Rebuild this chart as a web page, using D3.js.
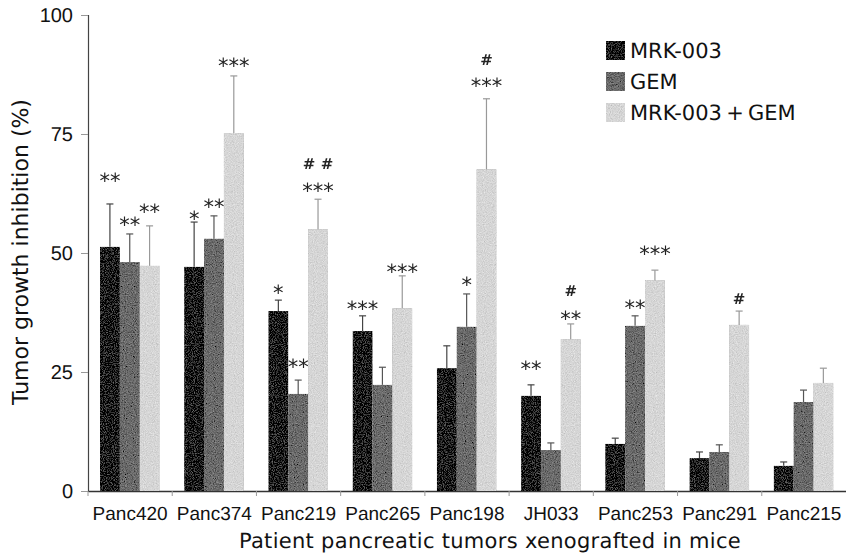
<!DOCTYPE html>
<html>
<head>
<meta charset="utf-8">
<script src="https://cdn.jsdelivr.net/npm/d3@7"></script>
<style>
  html, body { margin: 0; padding: 0; background: #fff; }
  svg { display: block; }
  text { text-rendering: geometricPrecision; }
  .marks { opacity: 0.99; }
</style>
</head>
<body>
<svg id="chart" width="846" height="557"></svg>
<script>
// ---------- data ----------
const categories = ["Panc420","Panc374","Panc219","Panc265","Panc198","JH033","Panc253","Panc291","Panc215"];
const seriesNames = ["MRK-003","GEM","MRK-003\u2009+\u2009GEM"];

const mrk      = [51.3, 47.1, 37.8, 33.6, 25.8, 20.0,  9.9,  6.9,  5.3];
const mrkErr   = [ 9.0,  9.4,  2.3,  3.2,  4.7,  2.3,  1.2,  1.3,  0.8];
const gem      = [48.1, 53.0, 20.4, 22.3, 34.5,  8.6, 34.7,  8.2, 18.7];
const gemErr   = [ 5.9,  4.8,  2.9,  3.7,  6.9,  1.5,  2.1,  1.5,  2.5];
const combo    = [47.3, 75.2, 55.0, 38.4, 67.6, 31.9, 44.3, 34.9, 22.7];
const comboErr = [ 8.4, 12.0,  6.3,  6.8, 14.8,  3.2,  2.1,  2.9,  3.1];

// significance marks and the level (in % units) at which each is written
const sigMrk     = ["**", "*",  "*",  "***", "",   "**", "",   "",   ""];
const sigMrkAt   = [66.4, 58.4, 42.9, 39.5, null, 26.9, null, null, null];
const sigGem     = ["**", "**", "**", "",   "*",  "",   "**", "",   ""];
const sigGemAt   = [57.1, 60.9, 27.3, null, 44.6, null, 39.7, null, null];
const sigCombo   = ["**", "***","***","***","***","**", "***","",   ""];
const sigComboAt = [59.9, 90.5, 64.3, 47.3, 86.3, 37.4, 51.1, null, null];
const hashCombo   = ["",   "",   "# #","",   "#",  "#",  "",   "#",  ""];
const hashComboAt = [null, null, 68.9, null, 90.8, 42.2, null, 40.5, null];

const yTicks = [0, 25, 50, 75, 100];
const yTitle = "Tumor growth inhibition (%)";
const xTitle = "Patient pancreatic tumors xenografted in mice";

// ---------- layout ----------
const svg = d3.select("#chart");
const plotL = 88, plotR = 846, plotT = 15, plotB = 491;

const x0 = d3.scaleBand().domain(categories).range([plotL, plotR]).padding(0);
const x1 = d3.scaleBand().domain(seriesNames).range([12, 71.5]).padding(0);
const y = d3.scaleLinear().domain([0, 100]).range([plotB, plotT]);

const fills = ["#1c1c1c", "#6b6b6b", "#d6d6d6"];
const errColors = ["#444", "#555", "#999"];

// grain filter to imitate the printed stipple texture
const defs = svg.append("defs");
const f = defs.append("filter").attr("id", "grain").attr("x", 0).attr("y", 0).attr("width", 1).attr("height", 1);
f.append("feTurbulence").attr("type", "fractalNoise").attr("baseFrequency", 0.9).attr("numOctaves", 2).attr("seed", 7).attr("result", "noise");
f.append("feColorMatrix").attr("in", "noise").attr("type", "matrix")
  .attr("values", "0.33 0.33 0.33 0 0  0.33 0.33 0.33 0 0  0.33 0.33 0.33 0 0  0 0 0 0 1").attr("result", "gray");
f.append("feComposite").attr("in", "SourceGraphic").attr("in2", "gray").attr("operator", "arithmetic")
  .attr("k1", 0).attr("k2", 1).attr("k3", 0.7).attr("k4", -0.35).attr("result", "mix");
f.append("feComposite").attr("in", "mix").attr("in2", "SourceGraphic").attr("operator", "in");

const series = [
  { name: seriesNames[0], vals: mrk,   errs: mrkErr,   sig: sigMrk,   sigAt: sigMrkAt },
  { name: seriesNames[1], vals: gem,   errs: gemErr,   sig: sigGem,   sigAt: sigGemAt },
  { name: seriesNames[2], vals: combo, errs: comboErr, sig: sigCombo, sigAt: sigComboAt }
];

// ---------- axes ----------
const yAxis = d3.axisLeft(y).tickValues(yTicks).tickSize(7).tickPadding(8);
const gy = svg.append("g").attr("transform", `translate(${plotL},0)`).call(yAxis);
gy.select(".domain").attr("stroke", "#444").attr("stroke-width", 1.2);
gy.selectAll(".tick line").attr("stroke", "#999");
gy.selectAll(".tick text").attr("font-family", "Liberation Sans, Arial, sans-serif").attr("font-size", 20).attr("fill", "#111");

const xAxis = d3.axisBottom(x0).tickSize(0).tickPadding(0);
const gx = svg.append("g").attr("transform", `translate(0,${plotB})`).call(xAxis);
gx.select(".domain").attr("stroke", "#333").attr("stroke-width", 1.5);
gx.selectAll(".tick text").attr("font-family", "Liberation Sans, Arial, sans-serif").attr("font-size", 19)
  .attr("fill", "#111").attr("dy", 0).attr("y", 29);
// small separators between groups
gx.selectAll(".sep").data(categories).join("line").attr("class", "sep")
  .attr("x1", d => x0(d)).attr("x2", d => x0(d)).attr("y1", 0).attr("y2", 5)
  .attr("stroke", "#999").attr("stroke-width", 1);

// ---------- bars ----------
series.forEach((s, si) => {
  const g = svg.append("g");
  g.selectAll("rect").data(categories).join("rect")
    .attr("x", d => x0(d) + x1(s.name))
    .attr("width", x1.bandwidth())
    .attr("y", (d, i) => y(s.vals[i]))
    .attr("height", (d, i) => y(0) - y(s.vals[i]))
    .attr("fill", fills[si])
    .attr("filter", "url(#grain)");

  const eg = svg.append("g").attr("stroke", errColors[si]).attr("stroke-width", 1.2);
  categories.forEach((c, i) => {
    const cx = x0(c) + x1(s.name) + x1.bandwidth() / 2;
    eg.append("line").attr("x1", cx).attr("x2", cx).attr("y1", y(s.vals[i])).attr("y2", y(s.vals[i] + s.errs[i]));
    eg.append("line").attr("x1", cx - 3.5).attr("x2", cx + 3.5).attr("y1", y(s.vals[i] + s.errs[i])).attr("y2", y(s.vals[i] + s.errs[i]));
  });

  // significance stars
  svg.append("g").attr("class", "marks").selectAll("text").data(categories).join("text")
    .filter((d, i) => s.sig[i])
    .attr("x", d => x0(d) + x1(s.name) + x1.bandwidth() / 2)
    .attr("y", d => y(s.sigAt[categories.indexOf(d)]) + 13)
    .attr("text-anchor", "middle")
    .attr("font-family", "DejaVu Sans, sans-serif").attr("font-size", 21).attr("fill", "#222")
    .text(d => s.sig[categories.indexOf(d)]);
});

// hash marks
svg.append("g").attr("class", "marks").selectAll("text").data(categories).join("text")
  .filter((d, i) => hashCombo[i])
  .attr("x", d => x0(d) + x1(seriesNames[2]) + x1.bandwidth() / 2)
  .attr("y", d => y(hashComboAt[categories.indexOf(d)]) + 6)
  .attr("text-anchor", "middle")
  .attr("font-family", "DejaVu Sans, sans-serif").attr("font-size", 15).attr("font-weight", "bold").attr("fill", "#222")
  .text(d => hashCombo[categories.indexOf(d)]);

// ---------- titles ----------
svg.append("text").attr("transform", `translate(28,252) rotate(-90)`)
  .attr("text-anchor", "middle").attr("font-family", "DejaVu Sans, sans-serif").attr("font-size", 22).attr("fill", "#111")
  .text(yTitle);
svg.append("text").attr("x", 490).attr("y", 548)
  .attr("text-anchor", "middle").attr("font-family", "DejaVu Sans, sans-serif").attr("font-size", 21)
  .attr("letter-spacing", 0.3).attr("fill", "#111")
  .text(xTitle);

// ---------- legend ----------
const lg = svg.append("g").attr("transform", "translate(606,41)");
seriesNames.forEach((n, i) => {
  lg.append("rect").attr("x", 0).attr("y", i * 31).attr("width", 19).attr("height", 19)
    .attr("fill", fills[i]).attr("filter", "url(#grain)");
  lg.append("text").attr("x", 24).attr("y", i * 31 + 17)
    .attr("font-family", "DejaVu Sans, sans-serif").attr("font-size", 21).attr("fill", "#111")
    .text(n);
});
</script>
</body>
</html>
